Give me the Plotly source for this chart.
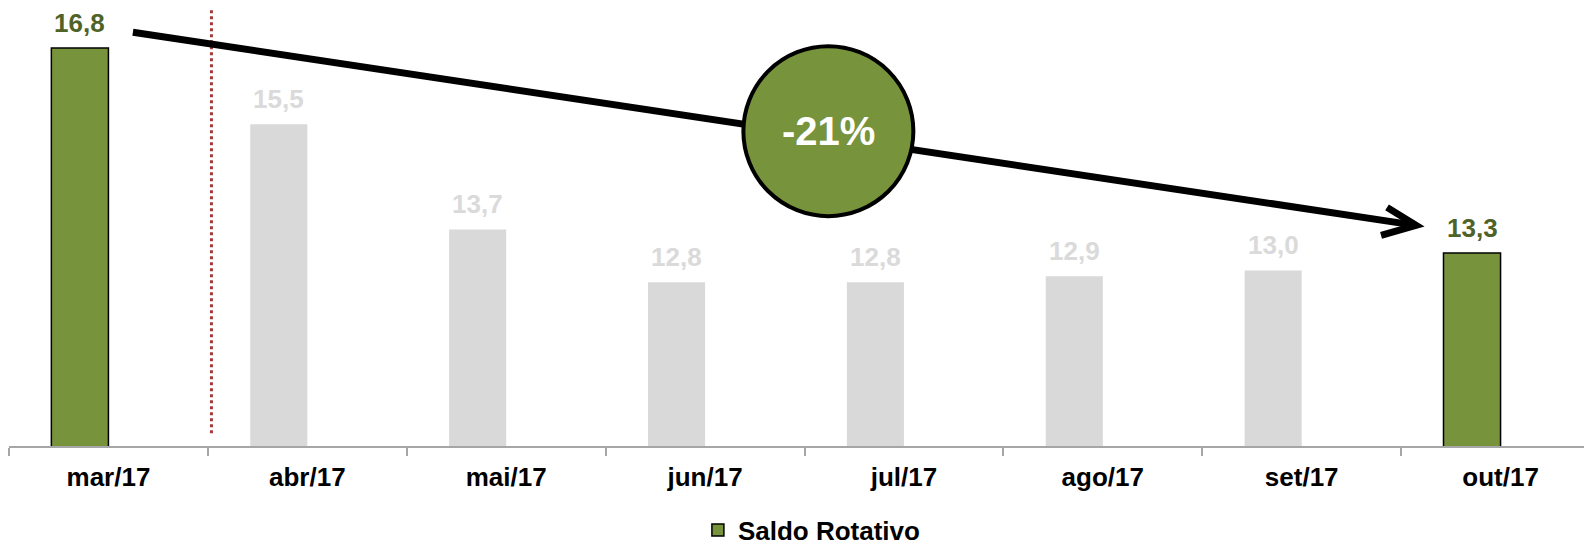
import plotly.graph_objects as go

# data
months = ["mar/17", "abr/17", "mai/17", "jun/17", "jul/17", "ago/17", "set/17", "out/17"]
saldo = [16.8, 15.5, 13.7, 12.8, 12.8, 12.9, 13.0, 13.3]
highlight = [True, False, False, False, False, False, False, True]

GREEN = "#77933C"
GREEN_TXT = "#4F6228"
GREY = "#D9D9D9"
FONT = "Liberation Sans, Arial, sans-serif"
BAR_W = 0.287

bar_colors = [GREEN if h else GREY for h in highlight]
line_w = [1.5 if h else 0 for h in highlight]
label_colors = [GREEN_TXT if h else "#DADADA" for h in highlight]

variation = f"{round((saldo[-1] / saldo[0] - 1) * 100):.0f}%"

fig = go.Figure()
fig.add_trace(go.Bar(
    x=months, y=saldo,
    name="Saldo Rotativo",
    width=BAR_W, offset=-BAR_W,
    marker=dict(color=bar_colors, line=dict(color="black", width=line_w)),
    showlegend=True,
))

# value labels above each bar
annotations = []
for i, (v, c) in enumerate(zip(saldo, label_colors)):
    annotations.append(dict(
        x=i - BAR_W / 2, y=v, xref="x", yref="y",
        text=f"{v:.1f}".replace(".", ","),
        showarrow=False, yanchor="bottom", yshift=8,
        font=dict(family=FONT, size=26, color=c, weight="bold"),
    ))

# circle badge with variation
cx, cy = 3.62, 15.38
annotations.append(dict(
    x=cx, y=cy, xref="x", yref="y", text=variation, showarrow=False,
    font=dict(family=FONT, size=40, color="white", weight="bold"),
))

shapes = [
    # dotted separator
    dict(type="line", xref="x", yref="paper", x0=0.518, x1=0.518, y0=0.029, y1=1.018,
         line=dict(color="#A33A3A", width=3, dash="dot")),
    # trend arrow
    dict(type="line", xref="x", yref="y", x0=0.123, y0=17.07, x1=6.575, y1=13.77,
         line=dict(color="black", width=7)),
    dict(type="path", xref="x", yref="y", xsizemode="pixel", ysizemode="pixel",
         xanchor=6.575, yanchor=13.77, path="M-29,18L0,0L-35,-10",
         line=dict(color="black", width=7)),
    dict(type="circle", xref="x", yref="y", xsizemode="pixel", ysizemode="pixel",
         xanchor=cx, yanchor=cy, x0=-85, x1=85, y0=-85, y1=85,
         fillcolor=GREEN, line=dict(color="black", width=4)),
]

fig.update_layout(
    width=1592, height=544,
    margin=dict(l=1, r=0, t=0, b=106, autoexpand=False),
    plot_bgcolor="white", paper_bgcolor="white",
    font=dict(family=FONT, size=26, color="black"),
    shapes=shapes,
    annotations=annotations,
    showlegend=True,
    legend=dict(orientation="h", x=0.433, xanchor="left", y=-0.192, yanchor="middle",
                font=dict(family=FONT, size=26, color="black", weight="bold")),
    xaxis=dict(
        range=[-0.5, 7.5],
        showline=True, linecolor="#A6A6A6", linewidth=2,
        ticks="outside", tickson="boundaries", ticklen=8, tickcolor="#A6A6A6", tickwidth=1.5,
        ticklabelstandoff=7,
        tickfont=dict(family=FONT, size=26, color="black", weight="bold"),
        showgrid=False, zeroline=False,
    ),
    yaxis=dict(range=[10, 17.485], visible=False, showgrid=False, zeroline=False),
)

fig.write_html("out.html")
